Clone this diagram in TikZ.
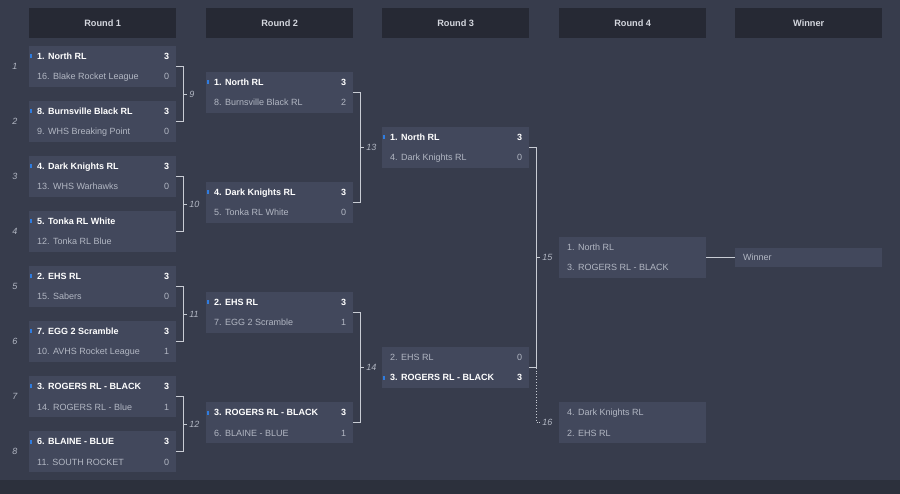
\documentclass[tikz,border=0pt]{standalone}
\usepackage{fontspec}
\setmainfont{Liberation Sans}
\definecolor{bgc}{RGB}{55,60,76}
\definecolor{boxc}{RGB}{66,72,92}
\definecolor{hdrc}{RGB}{38,41,52}
\definecolor{stripc}{RGB}{44,48,60}
\definecolor{linec}{RGB}{200,204,212}
\definecolor{losec}{RGB}{178,183,195}
\definecolor{hdrtext}{RGB}{212,215,222}
\definecolor{dotc}{RGB}{47,125,225}
\tikzset{
  mbox/.style={fill=boxc, draw=none, minimum width=147pt, minimum height=41pt, inner sep=0pt, anchor=north west},
  hdr/.style={fill=hdrc, draw=none, minimum width=147pt, minimum height=30pt, inner sep=0pt, anchor=north west, text=hdrtext, font=\fontsize{9.2}{10}\selectfont\bfseries},
  win/.style={text=white, inner sep=0pt, font=\fontsize{9}{10}\selectfont\bfseries},
  lose/.style={text=losec, inner sep=0pt, font=\fontsize{9}{10}\selectfont},
  num/.style={text=losec, inner sep=0pt, font=\fontsize{9}{10}\selectfont\itshape},
  conn/.style={draw=linec, line width=0.9pt},
  dconn/.style={draw=linec, line width=0.9pt, dotted},
}
% #1 name, #2 x, #3 y, #4 style1, #5 team1, #6 score1, #7 style2, #8 team2, #9 score2
\newcommand\matchbox[9]{%
  \node[mbox] (#1) at (#2,#3) {};
  \node[#4, anchor=base west] (#1-a) at ([shift={(8,13.7)}]#1.north west) {#5};
  \node[#4, anchor=base east] (#1-as) at ([shift={(-7,13.7)}]#1.north east) {#6};
  \node[#7, anchor=base west] (#1-b) at ([shift={(8,34)}]#1.north west) {#8};
  \node[#7, anchor=base east] (#1-bs) at ([shift={(-7,34)}]#1.north east) {#9};
}
\newcommand\windot[2]{%
  \fill[dotc] ([shift={(0.5,#2-2)}]#1.north west) rectangle ([shift={(2.5,#2+2)}]#1.north west);
}
\newcommand\bracket[4]{% #1 upper, #2 lower, #3 label name, #4 label text
  \draw[conn] (#1.east) -- ++(7,0) coordinate (#3-t) |- (#2.east);
  \coordinate (#3-m) at ([xshift=7pt]$(#1.east)!0.5!(#2.east)$);
  \draw[conn] (#3-m) -- ++(4,0) node[num, anchor=west, xshift=1.5pt] (#3) {#4};
}
\usetikzlibrary{calc}
\begin{document}
\begin{tikzpicture}[x=1pt,y=-1pt]
\fill[bgc] (0,0) rectangle (900,494);
\useasboundingbox (0,0) rectangle (900,494);
\fill[stripc] (0,480) rectangle (900,494);

% headers
\node[hdr] (h1) at (29,8) {Round 1};
\node[hdr] (h2) at (206,8) {Round 2};
\node[hdr] (h3) at (382,8) {Round 3};
\node[hdr] (h4) at (559,8) {Round 4};
\node[hdr] (h5) at (735,8) {Winner};

% Round 1
\matchbox{m1}{29}{46}{win}{1. North RL}{3}{lose}{16. Blake Rocket League}{0}
\matchbox{m2}{29}{101}{win}{8. Burnsville Black RL}{3}{lose}{9. WHS Breaking Point}{0}
\matchbox{m3}{29}{156}{win}{4. Dark Knights RL}{3}{lose}{13. WHS Warhawks}{0}
\matchbox{m4}{29}{211}{win}{5. Tonka RL White}{}{lose}{12. Tonka RL Blue}{}
\matchbox{m5}{29}{266}{win}{2. EHS RL}{3}{lose}{15. Sabers}{0}
\matchbox{m6}{29}{321}{win}{7. EGG 2 Scramble}{3}{lose}{10. AVHS Rocket League}{1}
\matchbox{m7}{29}{376}{win}{3. ROGERS RL - BLACK}{3}{lose}{14. ROGERS RL - Blue}{1}
\matchbox{m8}{29}{431}{win}{6. BLAINE - BLUE}{3}{lose}{11. SOUTH ROCKET}{0}

% Round 2
\matchbox{m9}{206}{72}{win}{1. North RL}{3}{lose}{8. Burnsville Black RL}{2}
\matchbox{m10}{206}{182}{win}{4. Dark Knights RL}{3}{lose}{5. Tonka RL White}{0}
\matchbox{m11}{206}{292}{win}{2. EHS RL}{3}{lose}{7. EGG 2 Scramble}{1}
\matchbox{m12}{206}{402}{win}{3. ROGERS RL - BLACK}{3}{lose}{6. BLAINE - BLUE}{1}

% Round 3
\matchbox{m13}{382}{127}{win}{1. North RL}{3}{lose}{4. Dark Knights RL}{0}
\matchbox{m14}{382}{347}{lose}{2. EHS RL}{0}{win}{3. ROGERS RL - BLACK}{3}

% Round 4
\matchbox{m15}{559}{237}{lose}{1. North RL}{}{lose}{3. ROGERS RL - BLACK}{}
\matchbox{m16}{559}{402}{lose}{4. Dark Knights RL}{}{lose}{2. EHS RL}{}

% Winner
\node[mbox, minimum height=19pt] (w) at (735,248) {};
\node[lose, anchor=base west] (w-t) at ([shift={(8,12.7)}]w.north west) {Winner};

% blue markers
\foreach \m in {m1,m2,m3,m4,m5,m6,m7,m8,m9,m10,m11,m12,m13} {\windot{\m}{10.5}}
\windot{m14}{30.8}

% match numbers
\foreach \m/\n in {m1/1,m2/2,m3/3,m4/4,m5/5,m6/6,m7/7,m8/8}
  \node[num] (n\n) at ([xshift=-14pt]\m.west) {\n};

% brackets
\bracket{m1}{m2}{l9}{9}
\bracket{m3}{m4}{l10}{10}
\bracket{m5}{m6}{l11}{11}
\bracket{m7}{m8}{l12}{12}
\bracket{m9}{m10}{l13}{13}
\bracket{m11}{m12}{l14}{14}
\bracket{m13}{m14}{l15}{15}

% loser path to match 16
\coordinate (d16) at (l15-t |- m16.west);
\draw[dconn] (m14.east -| l15-t) -- (d16) -- ++(4,0) node[num, anchor=west, xshift=1.5pt] (l16) {16};

% final connector
\draw[conn] (m15.east) -- (m15.east -| w.west);
\end{tikzpicture}
\end{document}
